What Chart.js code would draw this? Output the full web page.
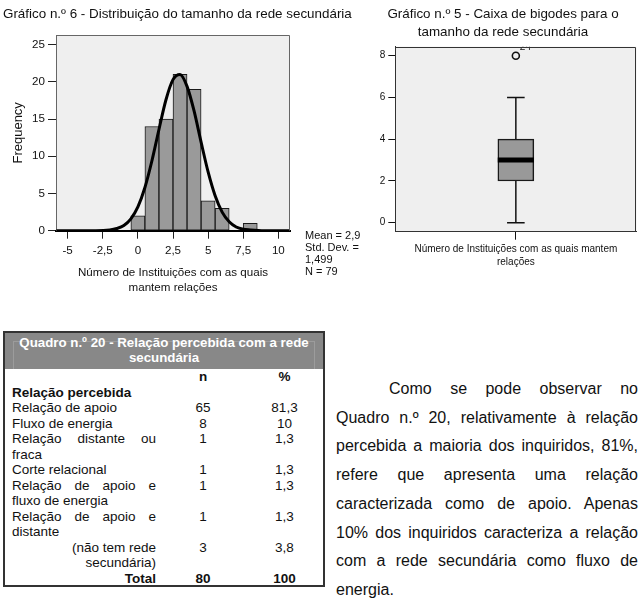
<!DOCTYPE html>
<html><head><meta charset="utf-8">
<script src="https://cdn.jsdelivr.net/npm/chart.js@4.4.1/dist/chart.umd.min.js"></script>
<style>
html,body{margin:0;padding:0;background:#fff;}
body{width:642px;height:601px;position:relative;overflow:hidden;font-family:"Liberation Sans",Arial,Helvetica,sans-serif;color:#111;}
.abs{position:absolute;}
#histWrap{left:0;top:0;width:340px;height:300px;}
#boxWrap{left:340px;top:0;width:302px;height:300px;}
#histTitle{left:3px;top:6px;font-size:13.4px;line-height:16px;white-space:nowrap;}
#boxTitle{left:372px;top:5px;width:262px;text-align:center;font-size:13.4px;line-height:18px;}
#stats{left:305px;top:229px;font-size:11px;line-height:12px;}
#tbl{left:3px;top:331px;width:322px;height:256px;border:2px solid #333;box-sizing:border-box;background:#fff;}
#tblHead{position:relative;height:36px;background:#888;color:#fff;font-weight:bold;font-size:13.3px;line-height:14.5px;text-align:center;padding-top:3px;box-sizing:border-box;}
#tblHeadInner{position:absolute;left:8px;right:8px;top:8px;bottom:0;border:1px solid #9c9c9c;border-bottom:none;}
#tblHeadText{position:relative;}
#tblBody{border-collapse:collapse;table-layout:fixed;width:318px;font-size:13.5px;line-height:15.5px;}
#tblBody td{padding:0;vertical-align:top;}
#tblBody td.c1{padding-left:7px;padding-right:4px;text-align:justify;}
#tblBody td.c2,#tblBody td.c3{text-align:center;}
#tblBody .b{font-weight:bold;}
#para{left:336px;top:375px;width:302px;font-size:16px;line-height:28.7px;text-align:justify;text-indent:53px;}
</style>
</head>
<body>
<div id="histWrap" class="abs"><canvas id="hist" width="340" height="300"></canvas></div>
<div id="boxWrap" class="abs"><canvas id="box" width="302" height="300"></canvas></div>
<div id="histTitle" class="abs">Gráfico n.º 6 - Distribuição do tamanho da rede secundária</div>
<div id="boxTitle" class="abs">Gráfico n.º 5 - Caixa de bigodes para o<br>tamanho da rede secundária</div>
<div id="stats" class="abs">Mean = 2,9<br>Std. Dev. =<br>1,499<br>N = 79</div>
<div id="tbl" class="abs">
  <div id="tblHead"><div id="tblHeadInner"></div><div id="tblHeadText">Quadro n.º 20 - Relação percebida com a rede<br>secundária</div></div>
  <table id="tblBody">
    <colgroup><col style="width:155px"><col style="width:86px"><col style="width:77px"></colgroup>
    <tbody id="tbody"></tbody>
  </table>
</div>
<div id="para" class="abs">Como se pode observar no Quadro n.º 20, relativamente à relação percebida a maioria dos inquiridos, 81%, refere que apresenta uma relação caracterizada como de apoio. Apenas 10% dos inquiridos caracteriza a relação com a rede secundária como fluxo de energia.</div>

<script>
// ---------- Histogram data (Gráfico n.º 6) ----------
const histBins = [0, 1, 2, 3, 4, 5, 6, 7, 8];
const histFreq = [2, 14, 15, 21, 19, 4, 3, 0, 1];
const curveX = [-5.8, -3, -2, -1.5, -1, -0.5, 0, 0.5, 1, 1.5, 2, 2.5, 3, 3.5, 4, 4.5, 5, 5.5, 6, 6.5, 7, 7.5, 8, 9, 10.8];
const curveY = [0, 0, 0.1, 0.3, 0.7, 1.6, 3.2, 5.8, 9.4, 13.6, 17.6, 20.3, 21.0, 19.4, 16.1, 11.9, 7.9, 4.7, 2.5, 1.2, 0.5, 0.2, 0.1, 0, 0];
const histXTicks = [-5, -2.5, 0, 2.5, 5, 7.5, 10];
const histYTicks = [0, 5, 10, 15, 20, 25];
const histXTitle = ['Número de Instituições com as quais', 'mantem relações'];
const histYTitle = 'Frequency';

// ---------- Box plot data (Gráfico n.º 5) ----------
const boxWhiskerLow = [0];
const boxQ1 = [2];
const boxMedian = [3];
const boxQ3 = [4];
const boxWhiskerHigh = [6];
const boxOutliers = [8];
const boxOutlierLabels = ['24'];
const boxYTicks = [0, 2, 4, 6, 8];
const boxXTitle = ['Número de Instituições com as quais mantem', 'relações'];

// ---------- Table data (Quadro n.º 20) ----------
const tblCategories = ['Relação de apoio', 'Fluxo de energia', 'Relação distante ou fraca', 'Corte relacional', 'Relação de apoio e fluxo de energia', 'Relação de apoio e distante', '(não tem rede secundária)'];
const tblN = ['65', '8', '1', '1', '1', '1', '3'];
const tblPct = ['81,3', '10', '1,3', '1,3', '1,3', '1,3', '3,8'];
const tblTotal = ['Total', '80', '100'];

// build table
(function(){
  const tb = document.getElementById('tbody');
  let html = '<tr><td class="c1"></td><td class="c2 b">n</td><td class="c3 b">%</td></tr>';
  html += '<tr><td class="c1 b" colspan="3" style="text-align:left">Relação percebida</td></tr>';
  tblCategories.forEach((c, i) => {
    const align = c.startsWith('(') ? ' style="text-align:right"' : '';
    html += '<tr><td class="c1"' + align + '>' + c + '</td><td class="c2">' + tblN[i] + '</td><td class="c3">' + tblPct[i] + '</td></tr>';
  });
  html += '<tr><td class="c1 b" style="text-align:right">' + tblTotal[0] + '</td><td class="c2 b">' + tblTotal[1] + '</td><td class="c3 b">' + tblTotal[2] + '</td></tr>';
  tb.innerHTML = html;
})();

const FONT = '"Liberation Sans", Arial, Helvetica, sans-serif';
Chart.defaults.font.family = FONT;
Chart.defaults.color = '#111';

const plotFrame = {
  id: 'plotFrame',
  beforeDraw(chart, args, opts) {
    const {ctx, chartArea: a} = chart;
    ctx.save();
    ctx.fillStyle = opts.bg;
    ctx.fillRect(a.left, a.top, a.right - a.left, a.bottom - a.top);
    ctx.restore();
  },
  afterDraw(chart, args, opts) {
    const {ctx, chartArea: a} = chart;
    ctx.save();
    ctx.strokeStyle = opts.frame;
    ctx.lineWidth = 1;
    ctx.beginPath();
    const t = Math.round(a.top) + 0.5, r = Math.round(a.right) - 0.5;
    ctx.moveTo(a.left, t); ctx.lineTo(r, t); ctx.lineTo(r, a.bottom);
    ctx.stroke();
    ctx.restore();
  }
};

const commaFmt = v => String(v).replace('.', ',');

// ---------- Histogram chart ----------
new Chart(document.getElementById('hist'), {
  type: 'bar',
  data: {
    datasets: [
      {
        type: 'line',
        data: curveX.map((x, i) => ({x: x, y: curveY[i]})),
        borderColor: '#000',
        borderWidth: 3,
        pointRadius: 0,
        fill: false,
        cubicInterpolationMode: 'monotone',
        order: 0
      },
      {
        type: 'bar',
        data: histBins.map((x, i) => ({x: x, y: histFreq[i]})),
        backgroundColor: '#9a9a9a',
        borderColor: '#1a1a1a',
        borderWidth: 1,
        borderSkipped: false,
        barPercentage: 1,
        categoryPercentage: 1,
        order: 1
      }
    ]
  },
  options: {
    responsive: false,
    animation: false,
    layout: {padding: {top: 35, right: 50, left: 0, bottom: 0}},
    plugins: {legend: {display: false}, tooltip: {enabled: false}, plotFrame: {bg: '#efefef', frame: '#666'}},
    scales: {
      x: {
        type: 'linear', min: -5.83, max: 10.83, offset: false,
        afterBuildTicks: s => { s.ticks = histXTicks.map(v => ({value: v})); },
        afterFit: s => { s.height = 69.3; },
        grid: {display: true, drawOnChartArea: false, drawTicks: true, tickLength: 8, color: '#222', offset: false},
        border: {display: true, color: '#000', width: 2},
        ticks: {font: {size: 11.6}, color: '#111', padding: 5, maxRotation: 0, autoSkip: false, callback: v => commaFmt(v)},
        title: {display: true, text: histXTitle, font: {size: 11.6, lineHeight: 1.3}, color: '#111', padding: {top: 0, bottom: 4.5}}
      },
      y: {
        type: 'linear', min: 0, max: 26.3,
        afterBuildTicks: s => { s.ticks = histYTicks.map(v => ({value: v})); },
        afterFit: s => { s.width = 56; },
        grid: {display: true, drawOnChartArea: false, drawTicks: true, tickLength: 8, color: '#222'},
        border: {display: true, color: '#666', width: 1},
        ticks: {font: {size: 11.6}, color: '#111', padding: 3},
        title: {display: true, text: histYTitle, font: {size: 13, lineHeight: 1.2}, color: '#111', padding: {top: 10.5, bottom: 0}}
      }
    }
  },
  plugins: [plotFrame]
});

// ---------- Box plot chart ----------
const outlierLabelPlugin = {
  id: 'outlierLabel',
  afterDatasetsDraw(chart) {
    const meta = chart.getDatasetMeta(0);
    const a = chart.chartArea;
    const ctx = chart.ctx;
    ctx.save();
    ctx.beginPath();
    ctx.rect(a.left, a.top, a.right - a.left, a.bottom - a.top);
    ctx.clip();
    ctx.fillStyle = '#111';
    ctx.font = '10px ' + FONT;
    ctx.textBaseline = 'alphabetic';
    meta.data.forEach((pt, i) => {
      ctx.fillText(boxOutlierLabels[i], pt.x + 4, pt.y - 6);
    });
    ctx.restore();
  }
};

const capHalf = 0.073, boxHalf = 0.15;
new Chart(document.getElementById('box'), {
  type: 'bar',
  data: {
    datasets: [
      { // outliers
        type: 'line', showLine: false,
        data: boxOutliers.map(v => ({x: 0, y: v})),
        pointRadius: 3.5, pointBorderWidth: 1.6, pointBorderColor: '#111', pointBackgroundColor: 'rgba(0,0,0,0)',
        order: 0
      },
      { // median
        type: 'line',
        data: [{x: -boxHalf, y: boxMedian[0]}, {x: boxHalf, y: boxMedian[0]}],
        borderColor: '#000', borderWidth: 5, pointRadius: 0, borderCapStyle: 'butt',
        order: 1
      },
      { // lower whisker
        type: 'line',
        data: [{x: 0, y: boxWhiskerLow[0]}, {x: 0, y: boxQ1[0]}],
        borderColor: '#111', borderWidth: 1.5, pointRadius: 0, order: 3
      },
      { // upper whisker
        type: 'line',
        data: [{x: 0, y: boxQ3[0]}, {x: 0, y: boxWhiskerHigh[0]}],
        borderColor: '#111', borderWidth: 1.5, pointRadius: 0, order: 3
      },
      { // lower cap
        type: 'line',
        data: [{x: -capHalf, y: boxWhiskerLow[0]}, {x: capHalf, y: boxWhiskerLow[0]}],
        borderColor: '#111', borderWidth: 1.5, pointRadius: 0, order: 3
      },
      { // upper cap
        type: 'line',
        data: [{x: -capHalf, y: boxWhiskerHigh[0]}, {x: capHalf, y: boxWhiskerHigh[0]}],
        borderColor: '#111', borderWidth: 1.5, pointRadius: 0, order: 3
      },
      { // box
        type: 'bar',
        data: [{x: 0, y: [boxQ1[0], boxQ3[0]]}],
        backgroundColor: '#999',
        borderColor: '#1a1a1a', borderWidth: 1.5, borderSkipped: false,
        barThickness: 36,
        order: 2
      }
    ]
  },
  options: {
    responsive: false,
    animation: false,
    layout: {padding: {top: 46.7, right: 5.3, left: 0, bottom: 0}},
    plugins: {legend: {display: false}, tooltip: {enabled: false}, plotFrame: {bg: '#efefef', frame: '#333'}},
    scales: {
      x: {
        type: 'linear', min: -1, max: 1, offset: false,
        afterBuildTicks: s => { s.ticks = [{value: 0}]; },
        afterFit: s => { s.height = 68.3; },
        grid: {display: true, drawOnChartArea: false, drawTicks: true, tickLength: 8, color: '#111', offset: false},
        border: {display: true, color: '#333', width: 1},
        ticks: {callback: () => '', padding: 0},
        title: {display: true, text: boxXTitle, font: {size: 10, lineHeight: 1.3}, color: '#111', padding: {top: 0, bottom: 31.5}}
      },
      y: {
        type: 'linear', min: -0.43, max: 8.43,
        afterBuildTicks: s => { s.ticks = boxYTicks.map(v => ({value: v})); },
        afterFit: s => { s.width = 55.3; },
        grid: {display: true, drawOnChartArea: false, drawTicks: true, tickLength: 7, color: '#111'},
        border: {display: true, color: '#333', width: 1},
        ticks: {font: {size: 10}, color: '#111', padding: 3}
      }
    }
  },
  plugins: [plotFrame, outlierLabelPlugin]
});
</script>
</body></html>
